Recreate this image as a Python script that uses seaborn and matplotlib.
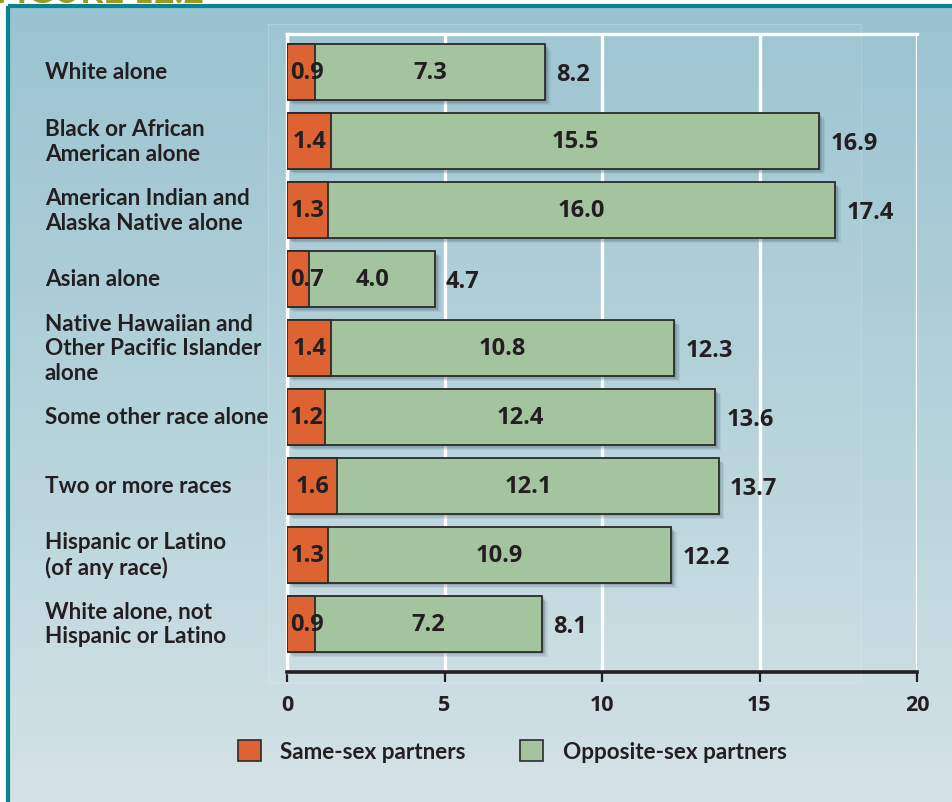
import numpy as np
import pandas as pd
import matplotlib
matplotlib.use("Agg")
import matplotlib.pyplot as plt
import matplotlib.patheffects as pe
import matplotlib.transforms as mtransforms
from matplotlib.patches import Patch, Rectangle
import seaborn as sns

# ---- data -------------------------------------------------------------
categories = [
    "White alone",
    "Black or African\nAmerican alone",
    "American Indian and\nAlaska Native alone",
    "Asian alone",
    "Native Hawaiian and\nOther Pacific Islander\nalone",
    "Some other race alone",
    "Two or more races",
    "Hispanic or Latino\n(of any race)",
    "White alone, not\nHispanic or Latino",
]
same_sex = [0.9, 1.4, 1.3, 0.7, 1.4, 1.2, 1.6, 1.3, 0.9]
opposite_sex = [7.3, 15.5, 16.0, 4.0, 10.8, 12.4, 12.1, 10.9, 7.2]
totals = [8.2, 16.9, 17.4, 4.7, 12.3, 13.6, 13.7, 12.2, 8.1]
x_ticks = [0, 5, 10, 15, 20]
legend_labels = ["Same-sex partners", "Opposite-sex partners"]

df = pd.DataFrame({"category": categories, "same": same_sex,
                   "opposite": opposite_sex, "total": totals})

# ---- style ------------------------------------------------------------
ORANGE = "#dd6333"
GREEN = "#a3c49e"
INK = "#231f20"
TEAL = "#0a8294"
TEXT_FONT = ["Lato", "DejaVu Sans"]
NUM_FONT = ["Open Sans", "DejaVu Sans"]
plt.rcParams["font.family"] = TEXT_FONT
plt.rcParams["font.weight"] = "bold"
TEXT_SIZE = 16.2
NUM_SIZE = 17.0
TICK_SIZE = 15.5

W, H = 953, 803
fig = plt.figure(figsize=(W / 100, H / 100), dpi=100)
fig.patch.set_facecolor("white")

# header text peeking above the frame
fig.text(-4 / W, 1 - 3 / H, "FIGURE 12.2", color="#9d9a20", fontsize=26,
         fontweight="bold", ha="left", va="baseline", zorder=-5)

# ---- background: gradient panel inside teal frame ----------------------
bg = fig.add_axes([0, 0, 1, 1], zorder=-1)
bg.set_xlim(0, W)
bg.set_ylim(H, 0)
bg.axis("off")
top_c = np.array([0x9a, 0xc3, 0xd1]) / 255
mid_c = np.array([0xb4, 0xd2, 0xdb]) / 255
bot_c = np.array([0xd5, 0xe3, 0xe6]) / 255
t = np.linspace(0, 1, 400)[:, None]
grad = np.where(t < 0.5, top_c + (mid_c - top_c) * (t / 0.5),
                mid_c + (bot_c - mid_c) * ((t - 0.5) / 0.5))
grad = np.repeat(grad[:, None, :], 2, axis=1)
bg.imshow(grad, extent=[8, W + 10, H + 10, 7], aspect="auto", zorder=0)
bg.add_patch(Rectangle((8, 7), W + 20, H + 20, fill=False,
                       edgecolor=TEAL, lw=3.0, zorder=2))
# faint lighter panel behind the plot
bg.add_patch(Rectangle((268, 25), 593, 659, facecolor="white", alpha=0.04,
                       edgecolor="none", zorder=1))
bg.add_patch(Rectangle((268, 25), 593, 659, fill=False,
                       edgecolor="white", alpha=0.18, lw=0.8, zorder=1))

# ---- main axes ---------------------------------------------------------
x0, x1, ytop, ybot = 287, 917, 35, 673
ax = fig.add_axes([x0 / W, 1 - ybot / H, (x1 - x0) / W, (ybot - ytop) / H])
ax.set_facecolor("none")

shadow = [
    pe.SimplePatchShadow(offset=(4.0, -4.0), shadow_rgbFace="#4a616b", alpha=0.10),
    pe.SimplePatchShadow(offset=(3.0, -3.0), shadow_rgbFace="#4a616b", alpha=0.15),
    pe.SimplePatchShadow(offset=(2.0, -2.0), shadow_rgbFace="#4a616b", alpha=0.2),
    pe.SimplePatchShadow(offset=(1.0, -1.0), shadow_rgbFace="#4a616b", alpha=0.2),
    pe.Normal(),
]

sns.barplot(data=df, x="total", y="category", orient="h", color=GREEN,
            saturation=1, width=0.81, edgecolor="#2b2b2b", linewidth=1.3,
            ax=ax, zorder=3)
sns.barplot(data=df, x="same", y="category", orient="h", color=ORANGE,
            saturation=1, width=0.81, edgecolor="#2b2b2b", linewidth=1.3,
            ax=ax, zorder=4)
for i, p in enumerate(ax.patches):
    if i < len(categories):
        p.set_path_effects(shadow)

ax.set_xlim(0, 20)
ax.set_ylim(8.7, -0.55)
ax.set_xlabel("")
ax.set_ylabel("")
ax.set_yticks([])

# white gridlines and frame
ax.set_xticks(x_ticks)
ax.grid(axis="x", color="white", lw=2.4, zorder=0)
ax.set_axisbelow(True)
for side in ("top", "left", "right"):
    ax.spines[side].set_color("white")
    ax.spines[side].set_linewidth(2.4)
ax.spines["right"].set_visible(False)
ax.spines["bottom"].set_color(INK)
ax.spines["bottom"].set_linewidth(2.6)
ax.spines["bottom"].set_zorder(5)
ax.tick_params(axis="x", direction="out", length=7, width=1.6, color=INK,
               pad=9, labelsize=TICK_SIZE, labelcolor=INK)
for tk, v in zip(ax.xaxis.get_major_ticks(), x_ticks):
    if v in (5, 15):
        tk.tick1line.set_linewidth(0.8)
for lbl in ax.get_xticklabels():
    lbl.set_fontweight("bold")
    lbl.set_family(NUM_FONT)

# value labels
num_kw = dict(fontsize=NUM_SIZE, color=INK, fontweight="bold",
              family=NUM_FONT, zorder=6)
for i, (s, o, tot) in enumerate(zip(same_sex, opposite_sex, totals)):
    ax.text(max(s / 2, 0.62), i, f"{s:.1f}", ha="center", va="center", **num_kw)
    ax.text(s + (tot - s) / 2, i, f"{o:.1f}", ha="center", va="center", **num_kw)
    ax.text(tot + 0.35, i + 0.03, f"{tot:.1f}", ha="left", va="center", **num_kw)

# category labels, left aligned in figure space
trans = mtransforms.blended_transform_factory(fig.transFigure, ax.transData)
for i, c in enumerate(categories):
    fig.text(45 / W, i, c, transform=trans, ha="left", va="center",
             fontsize=TEXT_SIZE, color=INK, fontweight="bold", linespacing=1.2)

# legend
handles = [Patch(facecolor=ORANGE, edgecolor="#2b2b2b", lw=1.2),
           Patch(facecolor=GREEN, edgecolor="#2b2b2b", lw=1.2)]
fig.legend(handles, legend_labels, loc="center", ncol=2,
           bbox_to_anchor=(512 / W, 1 - 752 / H), frameon=False,
           prop={"size": TEXT_SIZE, "weight": "bold", "family": TEXT_FONT},
           labelcolor=INK, handlelength=1.05, handleheight=1.05,
           handletextpad=0.85, columnspacing=2.4)

fig.savefig("out.png", dpi=100)
